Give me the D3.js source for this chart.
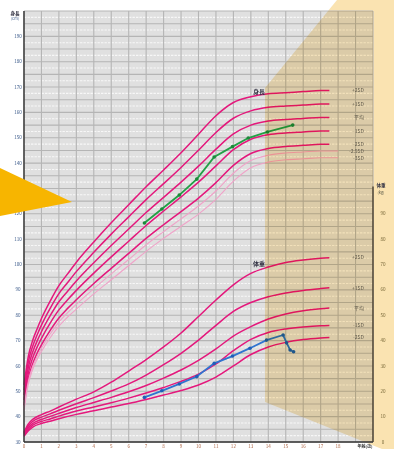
<!DOCTYPE html>
<html>
<head>
<meta charset="utf-8">
<script src="https://cdn.jsdelivr.net/npm/d3@7"></script>
<style>
  html, body { margin: 0; padding: 0; background: #fff; }
  svg { display: block; }
  text { font-family: "Noto Sans CJK JP", "Noto Sans", sans-serif; }
</style>
</head>
<body>
<div id="chart"></div>
<script>
// ---- tick labels ----
const ageTicks = [0, 1, 2, 3, 4, 5, 6, 7, 8, 9, 10, 11, 12, 13, 14, 15, 16, 17, 18];
const heightTicks = [30, 40, 50, 60, 70, 80, 90, 100, 110, 120, 130, 140, 150, 160, 170, 180, 190];
const weightTicks = [0, 10, 20, 30, 40, 50, 60, 70, 80, 90];

// ---- height reference curves (cm) ----
const heightAges = [0, 0.25, 0.5, 0.75, 1, 1.5, 2, 2.5, 3, 4, 5, 6, 7, 8, 9, 10, 11, 12, 13, 14, 15, 16, 17, 17.5];
const heightP2 = [52.5, 63.9, 70.1, 74.6, 78.7, 85.6, 91.7, 96.3, 100.9, 108.9, 116.5, 123.6, 130.7, 137.3, 144.1, 151.4, 158.7, 163.9, 166.2, 167.4, 167.8, 168.2, 168.6, 168.6];
const heightP1 = [50.5, 61.7, 67.8, 72.2, 76.1, 82.7, 88.5, 92.9, 97.2, 104.8, 112.0, 118.8, 125.6, 131.9, 138.3, 145.1, 152.1, 157.7, 160.6, 162.0, 162.5, 162.9, 163.3, 163.3];
const heightMean = [48.5, 59.5, 65.5, 69.8, 73.5, 79.8, 85.3, 89.5, 93.5, 100.7, 107.5, 114.0, 120.5, 126.5, 132.5, 138.8, 145.5, 151.5, 155.0, 156.6, 157.2, 157.6, 158.0, 158.0];
const heightM1 = [46.5, 57.3, 63.2, 67.4, 70.9, 76.9, 82.1, 86.1, 89.8, 96.6, 103.0, 109.2, 115.4, 121.1, 126.7, 132.5, 138.9, 145.3, 149.4, 151.2, 151.9, 152.3, 152.7, 152.7];
const heightM2 = [44.5, 55.1, 60.9, 65.0, 68.3, 74.0, 78.9, 82.7, 86.1, 92.5, 98.5, 104.4, 110.3, 115.7, 120.9, 126.2, 132.3, 139.1, 143.8, 145.8, 146.6, 147.0, 147.4, 147.4];
const heightAgesLong = [0, 0.25, 0.5, 0.75, 1, 1.5, 2, 2.5, 3, 4, 5, 6, 7, 8, 9, 10, 11, 12, 13, 14, 15, 16, 17, 18];
const heightM25 = [43.5, 54.0, 59.8, 63.8, 67.0, 72.6, 77.3, 81.0, 84.3, 90.5, 96.3, 102.0, 107.8, 113.0, 118.0, 123.1, 129.0, 136.0, 141.0, 143.1, 144.0, 144.4, 144.8, 144.8];
const heightM3 = [42.5, 52.9, 58.6, 62.6, 65.7, 71.1, 75.7, 79.3, 82.4, 88.4, 94.0, 99.6, 105.2, 110.3, 115.1, 119.9, 125.7, 132.9, 138.2, 140.4, 141.3, 141.7, 142.1, 142.1];

// ---- weight reference curves (kg) ----
const weightAges = [0, 0.25, 0.5, 1, 1.5, 2, 3, 4, 5, 6, 7, 8, 9, 10, 11, 12, 13, 14, 15, 16, 17, 17.5];
const weightP2 = [3.8, 7.1, 8.9, 10.8, 12.2, 13.8, 16.9, 19.8, 23.6, 28.0, 32.5, 37.5, 43.0, 49.5, 56.0, 62.0, 66.5, 69.0, 70.8, 71.8, 72.5, 72.7];
const weightP1 = [3.4, 6.4, 8.1, 9.8, 11.1, 12.5, 15.1, 17.5, 20.1, 22.9, 26.4, 30.5, 35.0, 40.2, 46.0, 51.5, 55.0, 57.3, 58.8, 59.8, 60.5, 60.8];
const weightMean = [3.0, 5.7, 7.3, 8.9, 10.1, 11.3, 13.6, 15.6, 17.6, 19.8, 22.3, 25.2, 28.4, 32.2, 36.7, 41.8, 45.5, 48.5, 50.5, 51.8, 52.6, 52.9];
const weightM1 = [2.6, 5.0, 6.6, 8.1, 9.1, 10.2, 12.2, 13.8, 15.5, 17.3, 19.3, 21.5, 23.9, 26.8, 30.8, 36.0, 40.5, 43.2, 44.6, 45.4, 45.9, 46.0];
const weightM2 = [2.2, 4.4, 5.9, 7.3, 8.2, 9.2, 10.9, 12.3, 13.8, 15.2, 16.8, 18.5, 20.3, 22.5, 25.6, 30.0, 34.5, 37.5, 39.3, 40.4, 41.0, 41.2];

// ---- measurements ----
const childHeightAges = [6.9, 7.9, 8.9, 9.9, 10.9, 11.95, 12.85, 13.95, 15.4];
const childHeights = [116.4, 121.9, 127.4, 133.7, 142.4, 146.5, 149.9, 152.3, 155.0];
const childWeightAges = [6.9, 7.9, 8.9, 9.9, 10.9, 11.95, 12.95, 13.9, 14.85, 15.05, 15.25, 15.45];
const childWeights = [17.6, 20.2, 22.9, 25.8, 31.0, 33.9, 37.0, 40.2, 42.2, 39.1, 36.3, 35.6];

const sdLabels = ['+2SD', '+1SD', '平均', '-1SD', '-2SD', '-2.5SD', '-3SD'];

// ---- layout ----
const W = 394, H = 449;
const plot = { left: 24, right: 373, top: 11, bottom: 442 };
const PINK = '#e4187c';
const PINK_FAINT = '#f0a2c8';
const TAN = '#fae3b1';
const highlight = '337,0 394,0 394,449 382,449 265,402 265,88';

const svg = d3.select('#chart').append('svg')
  .attr('width', W).attr('height', H);

svg.append('defs').append('clipPath').attr('id', 'plot-clip')
  .append('rect')
  .attr('x', plot.left).attr('y', plot.top)
  .attr('width', plot.right - plot.left).attr('height', plot.bottom - plot.top);

const x = d3.scaleLinear().domain([0, 20]).range([plot.left, plot.right]);
const yH = d3.scaleLinear().domain([30, 200]).range([plot.bottom, plot.top]);
const yW = d3.scaleLinear().domain([0, 170]).range([plot.bottom, plot.top]);

// tan beam behind everything (shows in the margins)
svg.append('polygon').attr('points', highlight).attr('fill', TAN);

// grid background
const grid = svg.append('g').attr('class', 'grid');
grid.append('rect')
  .attr('x', plot.left).attr('y', plot.top)
  .attr('width', plot.right - plot.left).attr('height', plot.bottom - plot.top)
  .attr('fill', '#e0e0e0');

// minor dotted rows (white)
grid.selectAll('.minor-h')
  .data(d3.range(32.5, 200, 5))
  .join('line')
  .attr('x1', plot.left).attr('x2', plot.right)
  .attr('y1', d => yH(d)).attr('y2', d => yH(d))
  .attr('stroke', '#f7f7f7').attr('stroke-width', 1.1)
  .attr('stroke-dasharray', '2.4,1.1');

// major lines
grid.selectAll('.major-h')
  .data(d3.range(30, 201, 5))
  .join('line')
  .attr('x1', plot.left).attr('x2', plot.right)
  .attr('y1', d => yH(d)).attr('y2', d => yH(d))
  .attr('stroke', '#b5b5b5').attr('stroke-width', 1.1);

grid.selectAll('.major-v')
  .data(d3.range(0, 21, 1))
  .join('line')
  .attr('x1', d => x(d)).attr('x2', d => x(d))
  .attr('y1', plot.top).attr('y2', plot.bottom)
  .attr('stroke', '#b5b5b5').attr('stroke-width', 1.1);

// curves
const curves = svg.append('g').attr('class', 'curves');
const lineH = d3.line().x(d => x(d[0])).y(d => yH(d[1])).curve(d3.curveMonotoneX);
const lineW = d3.line().x(d => x(d[0])).y(d => yW(d[1])).curve(d3.curveMonotoneX);

const heightSeries = [
  { ages: heightAges, vals: heightP2, faint: false },
  { ages: heightAges, vals: heightP1, faint: false },
  { ages: heightAges, vals: heightMean, faint: false },
  { ages: heightAges, vals: heightM1, faint: false },
  { ages: heightAges, vals: heightM2, faint: false },
  { ages: heightAgesLong, vals: heightM25, faint: true },
  { ages: heightAgesLong, vals: heightM3, faint: true }
];
const weightSeries = [weightP2, weightP1, weightMean, weightM1, weightM2];

heightSeries.forEach(s => {
  curves.append('path')
    .datum(s.ages.map((a, i) => [a, s.vals[i]]))
    .attr('d', lineH)
    .attr('fill', 'none')
    .attr('stroke', s.faint ? PINK_FAINT : PINK)
    .attr('stroke-width', s.faint ? 1.1 : 1.5);
});

weightSeries.forEach(vals => {
  curves.append('path')
    .datum(weightAges.map((a, i) => [a, vals[i]]))
    .attr('d', lineW)
    .attr('fill', 'none')
    .attr('stroke', PINK)
    .attr('stroke-width', 1.5);
});

// SD labels
const labels = svg.append('g').attr('class', 'sd-labels')
  .attr('font-size', 5).attr('fill', '#666').attr('text-anchor', 'end');
heightSeries.forEach((s, i) => {
  labels.append('text')
    .attr('x', 364)
    .attr('y', yH(s.vals[s.vals.length - 1]) + 1.8)
    .text(sdLabels[i]);
});
weightSeries.forEach((vals, i) => {
  labels.append('text')
    .attr('x', 364)
    .attr('y', yW(vals[vals.length - 1]) + 1.8)
    .text(sdLabels[i]);
});

svg.append('text').attr('x', 259).attr('y', 94)
  .attr('font-size', 6).attr('font-weight', 700).attr('fill', '#334')
  .attr('text-anchor', 'middle').text('身長');
svg.append('text').attr('x', 259).attr('y', 266)
  .attr('font-size', 6).attr('font-weight', 700).attr('fill', '#334')
  .attr('text-anchor', 'middle').text('体重');

// measured values
const meas = svg.append('g').attr('class', 'measurements');
const hPts = childHeightAges.map((a, i) => [a, childHeights[i]]);
meas.append('path').datum(hPts).attr('d', d3.line().x(d => x(d[0])).y(d => yH(d[1])))
  .attr('fill', 'none').attr('stroke', '#22a046').attr('stroke-width', 1.8);
meas.selectAll('.hdot').data(hPts).join('circle')
  .attr('cx', d => x(d[0])).attr('cy', d => yH(d[1])).attr('r', 1.8)
  .attr('fill', '#1b8a3a');

const wPts = childWeightAges.map((a, i) => [a, childWeights[i]]);
meas.append('path').datum(wPts).attr('d', d3.line().x(d => x(d[0])).y(d => yW(d[1])))
  .attr('fill', 'none').attr('stroke', '#2f74d0').attr('stroke-width', 1.8);
meas.selectAll('.wdot').data(wPts).join('circle')
  .attr('cx', d => x(d[0])).attr('cy', d => yW(d[1])).attr('r', 1.8)
  .attr('fill', '#1f5fb8');

// tan beam over the plot area
svg.append('polygon')
  .attr('points', highlight)
  .attr('clip-path', 'url(#plot-clip)')
  .attr('fill', '#f6d896')
  .attr('opacity', 0.6)
  .style('mix-blend-mode', 'multiply');

// axes
const axes = svg.append('g').attr('class', 'axes');
axes.append('line').attr('x1', plot.left).attr('x2', plot.left)
  .attr('y1', plot.top).attr('y2', plot.bottom).attr('stroke', '#333').attr('stroke-width', 1.4);
axes.append('line').attr('x1', plot.left).attr('x2', plot.right)
  .attr('y1', plot.bottom).attr('y2', plot.bottom).attr('stroke', '#333').attr('stroke-width', 1.4);
axes.append('line').attr('x1', plot.right).attr('x2', plot.right)
  .attr('y1', yW(100) - 2).attr('y2', plot.bottom).attr('stroke', '#4a4030').attr('stroke-width', 1.4);

const tickFont = 4.6;
axes.selectAll('.ht').data(heightTicks).join('text')
  .attr('x', 18).attr('y', d => yH(d) + 1.6)
  .attr('text-anchor', 'middle').attr('font-size', tickFont).attr('fill', '#3b5a8a')
  .text(d => d);
axes.append('text').attr('x', 15).attr('y', 15)
  .attr('text-anchor', 'middle').attr('font-size', 4.6).attr('font-weight', 700).attr('fill', '#334')
  .text('身長');
axes.append('text').attr('x', 15).attr('y', 20)
  .attr('text-anchor', 'middle').attr('font-size', 3.8).attr('fill', '#3b5a8a')
  .text('(cm)');

axes.selectAll('.wt').data(weightTicks).join('text')
  .attr('x', 383).attr('y', d => yW(d) + 1.6)
  .attr('text-anchor', 'middle').attr('font-size', tickFont).attr('fill', '#7a6a3a')
  .text(d => d);
axes.append('text').attr('x', 381).attr('y', yW(100) - 1)
  .attr('text-anchor', 'middle').attr('font-size', 4.6).attr('font-weight', 700).attr('fill', '#334')
  .text('体重');
axes.append('text').attr('x', 381).attr('y', yW(100) + 6)
  .attr('text-anchor', 'middle').attr('font-size', 3.8).attr('fill', '#554')
  .text('(kg)');

axes.selectAll('.at').data(ageTicks).join('text')
  .attr('x', d => x(d)).attr('y', 448)
  .attr('text-anchor', 'middle').attr('font-size', tickFont).attr('fill', '#b06a4a')
  .text(d => d);
axes.append('text').attr('x', 365).attr('y', 448)
  .attr('text-anchor', 'middle').attr('font-size', 4).attr('font-weight', 700).attr('fill', '#333')
  .text('年齢(歳)');

// orange arrow
svg.append('polygon')
  .attr('points', '0,168 72,202 0,216')
  .attr('fill', '#f7b500');
</script>
</body>
</html>
